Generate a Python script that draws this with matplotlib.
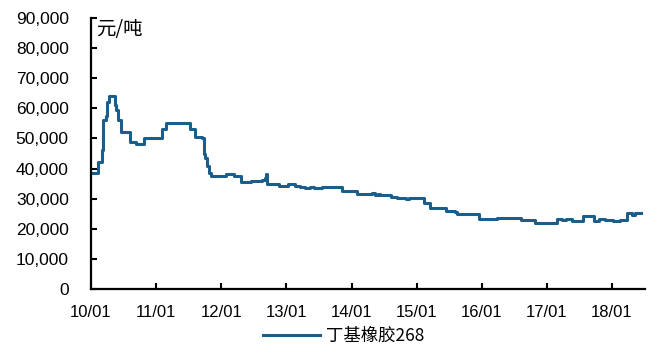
import matplotlib
matplotlib.use("Agg")
import matplotlib.pyplot as plt
import pandas as pd

plt.rcParams['font.family'] = ['Liberation Sans', 'Noto Sans CJK SC', 'DejaVu Sans']

dates = ["2010-01-01", "2010-02-10", "2010-03-01", "2010-03-08", "2010-03-25", "2010-04-03",
         "2010-04-12", "2010-05-15", "2010-05-23", "2010-06-02", "2010-06-17", "2010-06-21",
         "2010-08-08", "2010-09-10", "2010-10-24", "2011-02-06", "2011-02-28", "2011-07-10",
         "2011-08-08", "2011-09-16", "2011-09-27", "2011-10-01", "2011-10-12", "2011-10-23",
         "2011-11-03", "2012-01-26", "2012-03-14", "2012-04-20", "2012-06-16", "2012-07-24",
         "2012-08-18", "2012-09-01", "2012-09-09", "2012-09-16", "2012-11-20", "2013-01-10",
         "2013-02-17", "2013-03-18", "2013-04-16", "2013-05-12", "2013-06-07", "2013-07-20",
         "2013-11-10", "2014-02-03", "2014-04-27", "2014-05-12", "2014-05-30", "2014-06-10",
         "2014-08-13", "2014-09-12", "2014-11-03", "2014-11-18", "2015-02-14", "2015-03-15",
         "2015-06-13", "2015-08-04", "2015-08-13", "2015-12-15", "2016-03-28", "2016-08-10",
         "2016-10-24", "2016-12-20", "2017-01-18", "2017-02-24", "2017-03-25", "2017-04-20",
         "2017-05-19", "2017-07-20", "2017-09-24", "2017-10-20", "2017-11-24", "2018-01-08",
         "2018-02-17", "2018-03-25", "2018-04-22", "2018-05-10", "2018-06-14"]
values = [38700, 42300, 46200, 56100, 57500, 62000,
          64100, 61100, 59500, 56100, 55000, 52000,
          48900, 48200, 50300, 53000, 55000, 53000,
          50400, 50000, 45000, 43500, 41000, 38500,
          37500, 38200, 37400, 35700, 36000, 35800,
          36200, 37000, 38200, 34900, 34200, 34800,
          34300, 34000, 33500, 34000, 33400, 33800,
          32700, 31600, 31800, 31200, 31400, 31200,
          30500, 30100, 29800, 30100, 28500, 26800,
          25800, 25500, 24800, 23300, 23700, 22900,
          21800, 22100, 21800, 23100, 22800, 23200,
          22600, 24400, 22700, 23300, 22900, 22600,
          22900, 25100, 24700, 25100, 25100]

series_name = "丁基橡胶268"
unit_label = "元/吨"
y_ticks = [0, 10000, 20000, 30000, 40000, 50000, 60000, 70000, 80000, 90000]
x_tick_years = list(range(2010, 2019))

x = pd.to_datetime(dates)

fig = plt.figure(figsize=(6.48, 3.47), dpi=100)
ax = fig.add_axes([0.1404, 0.167, 0.855, 0.781])

ax.plot(x, values, drawstyle='steps-post', color='#1B5E8C', lw=2.2,
        solid_joinstyle='round', label=series_name)

ax.set_ylim(0, 90000)
ax.set_yticks(y_ticks)
ax.set_yticklabels([f"{v:,}" for v in y_ticks], fontsize=12.5)
ax.set_xlim(pd.Timestamp("2010-01-01"), pd.Timestamp("2018-07-05"))
xt = [pd.Timestamp(f"{y}-01-01") for y in x_tick_years]
ax.set_xticks(xt)
ax.set_xticklabels([f"{y % 100:02d}/01" for y in x_tick_years], fontsize=12)

for s in ['top', 'right']:
    ax.spines[s].set_visible(False)
for s in ['left', 'bottom']:
    ax.spines[s].set_linewidth(1.6)
    ax.spines[s].set_color('black')
ax.tick_params(axis='both', direction='in', length=4, width=1.5)
ax.tick_params(axis='x', pad=11.5)
ax.tick_params(axis='y', pad=16)

ax.text(0.01, 0.995, unit_label, transform=ax.transAxes, ha='left', va='top',
        fontsize=14, family=['Noto Sans CJK SC', 'DejaVu Sans'])

leg = fig.legend(loc='center', bbox_to_anchor=(0.53, 0.032), frameon=False,
                 prop={'family': ['Noto Sans CJK SC', 'DejaVu Sans'], 'size': 12.5},
                 handlelength=3.3, handletextpad=0.35, borderpad=0)

fig.savefig("out.png", dpi=100)
